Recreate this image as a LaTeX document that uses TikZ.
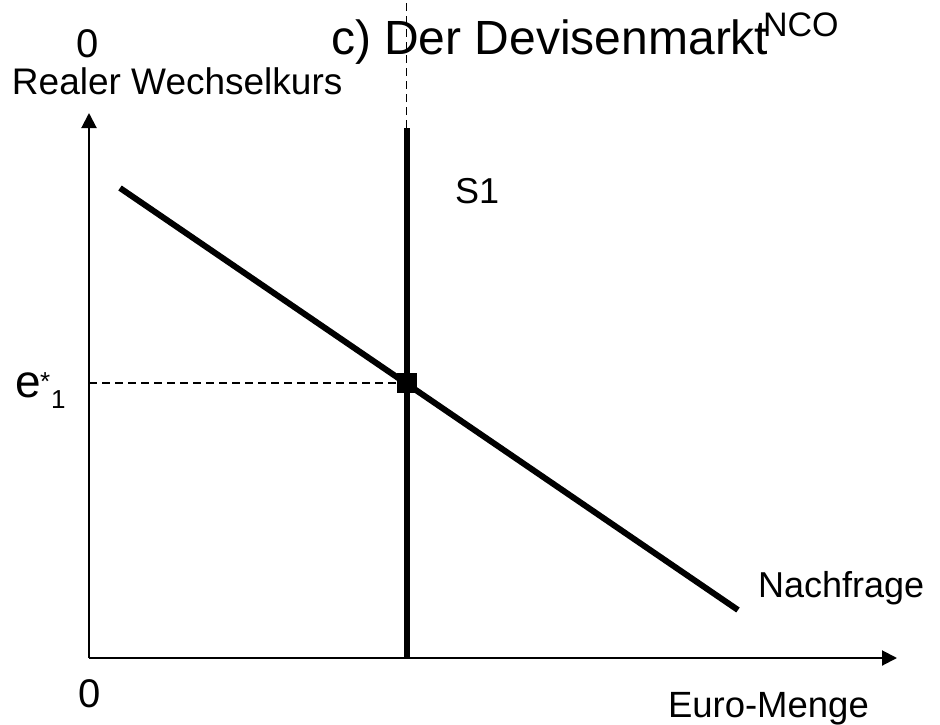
\documentclass[tikz,border=0pt]{standalone}
\usepackage{fontspec}
\setmainfont{Liberation Sans}
\usetikzlibrary{arrows.meta}
\tikzset{
  lbl/.style={anchor=base west, inner sep=0pt, outer sep=0pt},
  axis/.style={line width=2pt, -{Triangle[length=15pt,width=15pt]}},
  curve/.style={line width=6pt},
  guide/.style={line width=1.5pt, dash pattern=on 8pt off 5pt},
}
\newcommand{\fsz}[1]{\fontsize{#1}{#1}\selectfont}
\begin{document}
\begin{tikzpicture}[x=1pt,y=-1pt]
\useasboundingbox (0,0) rectangle (940,725);
% coordinates
\coordinate (O) at (89,658);
\coordinate (ytip) at (89,113);
\coordinate (xtip) at (897,658);
\coordinate (stop) at (406.5,128);
\coordinate (sbot) at (406.5,658);
\coordinate (dtop) at (406.5,0);
\coordinate (d1) at (120,188);
\coordinate (d2) at (738,610);
\coordinate (eq) at (406.5,383);
\coordinate (eqy) at (89,383);
% axes
\draw[axis] (O) -- (ytip);
\draw[axis] (O) -- (xtip);
% guides
\draw[guide] (stop) -- (dtop);
\draw[guide] (eqy) -- (eq);
% curves
\draw[curve] (stop) -- (sbot);
\draw[curve] (d1) -- (d2);
% equilibrium marker
\node[fill=black, minimum size=20pt, inner sep=0pt] (eqm) at (eq) {};
% labels
\node[lbl] (ttl) at (331,55) {\fsz{48}c) Der Devisenmarkt};
\node[lbl] (nco) at (763,37) {\fsz{34}NCO};
\node[inner sep=0pt] (z1) at (88,44) {\fsz{40}0};
\node[lbl] (ylab) at (12,95) {\fsz{37}Realer Wechselkurs};
\node[lbl] (s1) at (455,203) {\fsz{36}S1};
\node[lbl] (nf) at (758,597) {\fsz{36}Nachfrage};
\node[lbl] (xlab) at (668,717) {\fsz{36.5}Euro-Menge};
\node[inner sep=0pt] (z2) at (89.5,694) {\fsz{40}0};
\node[lbl] (e) at (15,397) {\fsz{46}e};
\node[lbl] (est) at (40,390) {\fsz{26}*};
\node[lbl] (e1) at (51,408) {\fsz{26}1};
\end{tikzpicture}
\end{document}
